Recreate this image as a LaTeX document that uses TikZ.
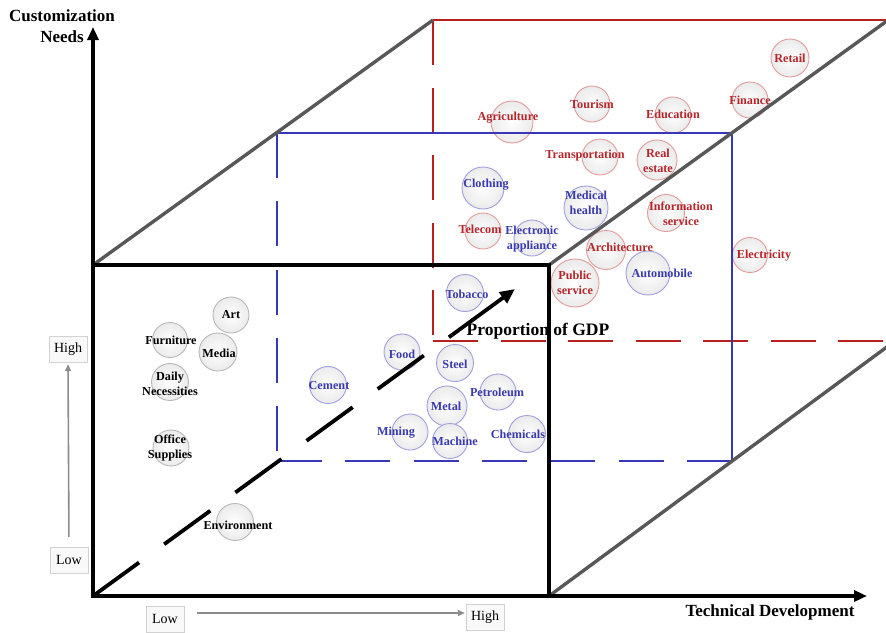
\documentclass[tikz,border=0pt]{standalone}
\usepackage{fontspec}
\setmainfont{Liberation Serif}
\usetikzlibrary{arrows.meta}

\definecolor{redline}{HTML}{B8201E}
\definecolor{redtext}{HTML}{B5262B}
\definecolor{redring}{HTML}{E39C9C}
\definecolor{blueline}{HTML}{3838B6}
\definecolor{bluetext}{HTML}{3A3AAE}
\definecolor{bluering}{HTML}{A0A0DE}
\definecolor{grayring}{HTML}{B8B8B8}
\definecolor{diagline}{HTML}{585858}
\definecolor{guidegray}{HTML}{8C8C8C}

\tikzset{
  axis/.style={line width=4pt, {Triangle[length=13pt,width=11pt]}-{Triangle[length=13pt,width=11pt]}},
  frontbox/.style={line width=3.2pt, black},
  diag/.style={line width=3.4pt, diagline},
  bluesolid/.style={line width=2.6pt, blueline},
  bluedash/.style={line width=2.6pt, blueline, dash pattern=on 45pt off 23.3pt},
  redsolid/.style={line width=2.8pt, redline},
  reddash/.style={line width=2.8pt, redline, dash pattern=on 45pt off 22.5pt},
  gdpdash/.style={line width=3.8pt, black, dash pattern=on 57pt off 31pt},
  gdptip/.style={line width=3.8pt, black, -{Triangle[length=15pt,width=13pt]}},
  ring/.style={circle, inner sep=0pt, minimum size=#1, line width=0.9pt,
               shading=radial, inner color=white, outer color=gray!16},
  rring/.style={ring=#1, draw=redring},
  bring/.style={ring=#1, draw=bluering},
  kring/.style={ring=#1, draw=grayring},
  lbl/.style={inner sep=0pt, align=center, font=\fontsize{12.2}{14.5}\selectfont\bfseries},
  rlbl/.style={lbl, text=redtext},
  blbl/.style={lbl, text=bluetext},
  klbl/.style={lbl, text=black},
  title/.style={inner sep=0pt, align=center, font=\fontsize{17}{21}\selectfont\bfseries},
  scalebox/.style={draw=gray!35, fill=gray!5, minimum width=38pt, minimum height=26pt,
                   inner sep=0pt, font=\fontsize{14}{16}\selectfont},
  guide/.style={line width=1.6pt, guidegray, -{Triangle[length=7pt,width=6pt]}},
}

\begin{document}
\begin{tikzpicture}[x=1pt,y=-1pt]
\useasboundingbox (0,0) rectangle (886,632);
\clip (0,0) rectangle (886,632);

% key points of the frame
\coordinate (O)   at (93,596);
\coordinate (Ytip) at (93,27);
\coordinate (Xtip) at (867,596);
\coordinate (FTL) at (93,265);
\coordinate (FTR) at (549,265);
\coordinate (FBR) at (549,596);
\coordinate (BTL) at (433,20);
\coordinate (BBL) at (433,341);
\coordinate (BTR) at (895,20);
\coordinate (BBR) at (895,341);
\coordinate (FTRx) at (891,18);
\coordinate (FBRx) at (895,341);
\coordinate (MTL) at (277,133);
\coordinate (MTR) at (732,133);
\coordinate (MBL) at (277,461);
\coordinate (MBR) at (732,461);
\coordinate (Gd) at (452,335);
\coordinate (Gt) at (515,289);

% ---------- bubbles ----------
% services (red)
\node[rring=38pt] (cRetail)  at (790,58)  {};
\node[rring=36pt] (cFinance) at (750,100) {};
\node[rring=36pt] (cEdu)     at (673,115) {};
\node[rring=36pt] (cTour)    at (592,104) {};
\node[rring=42pt] (cAgri)    at (512,122) {};
\node[rring=36pt] (cTrans)   at (600,157) {};
\node[rring=40pt] (cReal)    at (657,160) {};
\node[rring=36pt] (cTele)    at (483,231) {};
\node[rring=37pt] (cInfo)    at (666,213) {};
\node[rring=39pt] (cArch)    at (606,250) {};
\node[rring=48pt] (cPub)     at (575,283) {};
\node[rring=35pt] (cElec)    at (750,255) {};
% manufacturing (blue)
\node[bring=42pt] (cCloth)   at (483,188) {};
\node[bring=44pt] (cMed)     at (586,208) {};
\node[bring=36pt] (cElapp)   at (532,238) {};
\node[bring=44pt] (cAuto)    at (648,273) {};
\node[bring=37pt] (cTob)     at (465,293) {};
\node[bring=36pt] (cFood)    at (402,352) {};
\node[bring=37pt] (cSteel)   at (455,363) {};
\node[bring=37pt] (cCem)     at (328,385) {};
\node[bring=36pt] (cPetro)   at (498,392) {};
\node[bring=40pt] (cMetal)   at (447,406) {};
\node[bring=36pt] (cMining)  at (410,432) {};
\node[bring=35pt] (cMach)    at (450,441) {};
\node[bring=37pt] (cChem)    at (527,434) {};
% others (black)
\node[kring=36pt] (cArt)     at (231,315) {};
\node[kring=35pt] (cFurn)    at (170,340) {};
\node[kring=38pt] (cMedia)   at (218,352) {};
\node[kring=37pt] (cDaily)   at (170,382) {};
\node[kring=36pt] (cOffice)  at (171,448) {};
\node[kring=37pt] (cEnv)     at (235,522) {};

% ---------- back (red) frame ----------
\draw[redsolid] (BTL) -- (BTR);
\draw[reddash] (BTL) -- (BBL);
\draw[reddash] (BBL) -- (BBR);

% ---------- middle (blue) frame ----------
\draw[bluesolid] (MTL) -- (MTR) -- (MBR);
\draw[bluedash] (MTL) -- (MBL);
\draw[bluedash] (MBL) -- (MBR);

% ---------- depth edges ----------
\draw[diag] (FTL) -- (BTL);
\draw[diag] (FTR) -- (FTRx);
\draw[diag] (FBR) -- (FBRx);

% ---------- front (black) frame and axes ----------
\draw[frontbox] (FTL) -- (FTR) -- (FBR);
\draw[axis] (Ytip) -- (O) -- (Xtip);

% GDP direction
\draw[gdpdash] (O) -- (Gd);
\draw[gdptip] (Gd) -- (Gt);

% ---------- labels ----------
\node[rlbl] (tRetail)  at (790,58)  {Retail};
\node[rlbl] (tFinance) at (750,100) {Finance};
\node[rlbl] (tEdu)     at (673,114) {Education};
\node[rlbl] (tTour)    at (592,104) {Tourism};
\node[rlbl] (tAgri)    at (508,118) {Agriculture};
\node[rlbl] (tTrans)   at (585,156) {Transportation};
\node[rlbl] (tReal)    at (658,161) {Real\\estate};
\node[rlbl] (tTele)    at (480,229) {Telecom};
\node[rlbl] (tInfo)    at (681,214) {Information\\service};
\node[rlbl] (tArch)    at (620,247) {Architecture};
\node[rlbl] (tPub)     at (575,283) {Public\\service};
\node[rlbl] (tElec)    at (764,256) {Electricity};

\node[blbl] (tCloth)   at (486,185) {Clothing};
\node[blbl] (tMed)     at (586,203) {Medical\\health};
\node[blbl] (tElapp)   at (532,239) {Electronic\\appliance};
\node[blbl] (tAuto)    at (662,273) {Automobile};
\node[blbl] (tTob)     at (467,294) {Tobacco};
\node[blbl] (tFood)    at (402,354) {Food};
\node[blbl] (tSteel)   at (455,364) {Steel};
\node[blbl] (tCem)     at (329,386) {Cement};
\node[blbl] (tPetro)   at (497,392) {Petroleum};
\node[blbl] (tMetal)   at (446,406) {Metal};
\node[blbl] (tMining)  at (396,433) {Mining};
\node[blbl] (tMach)    at (455,441) {Machine};
\node[blbl] (tChem)    at (518,434) {Chemicals};

\node[klbl] (tArt)     at (231,315) {Art};
\node[klbl] (tFurn)    at (171,340) {Furniture};
\node[klbl] (tMedia)   at (219,353) {Media};
\node[klbl] (tDaily)   at (170,384) {Daily\\Necessities};
\node[klbl] (tOffice)  at (170,448) {Office\\Supplies};
\node[klbl] (tEnv)     at (238,525) {Environment};

\node[title, font=\fontsize{17.5}{21}\selectfont\bfseries] (gdp) at (538,331) {Proportion of GDP};
\node[title] (ylab) at (62,26) {Customization\\Needs};
\node[title] (xlab) at (770,612) {Technical Development};

% ---------- low / high scales ----------
\node[scalebox] (yHigh) at (68,349) {High};
\node[scalebox] (yLow)  at (69,560) {Low};
\node[scalebox] (xLow)  at (165,619) {Low};
\node[scalebox] (xHigh) at (485,617) {High};
\draw[guide, shorten <=10pt, shorten >=2pt] (yLow.north) -- (yHigh.south);
\draw[guide, shorten <=13pt, shorten >=1pt] (xLow.east |- 0,613) -- (xHigh.west |- 0,613);
\end{tikzpicture}
\end{document}
